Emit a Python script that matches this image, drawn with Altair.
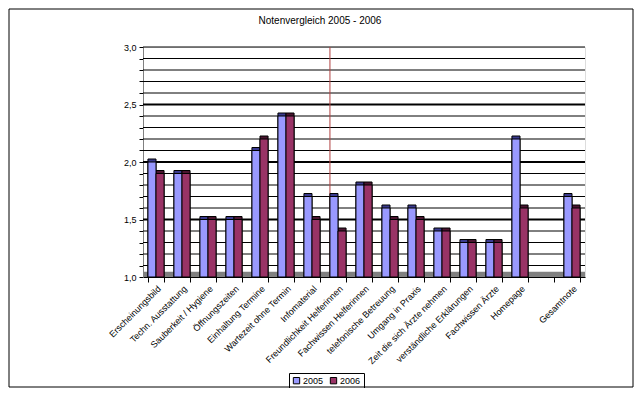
import altair as alt
import pandas as pd

title_text = "Notenvergleich 2005 - 2006"
categories = ["Erscheinungsbild", "Techn. Ausstattung", "Sauberkeit / Hygiene", "Öffnungszeiten",
              "Einhaltung Termine", "Wartezeit ohne Termin", "Infomaterial", "Freundlichkeit Helferinnen",
              "Fachwissen Helferinnen", "telefonische Betreuung", "Umgang in Praxis",
              "Zeit die sich Ärzte nehmen", "verständliche Erklärungen", "Fachwissen Ärzte",
              "Homepage", " ", "Gesamtnote"]
values_2005 = [2.0, 1.9, 1.5, 1.5, 2.1, 2.4, 1.7, 1.7, 1.8, 1.6, 1.6, 1.4, 1.3, 1.3, 2.2, None, 1.7]
values_2006 = [1.9, 1.9, 1.5, 1.5, 2.2, 2.4, 1.5, 1.4, 1.8, 1.5, 1.5, 1.4, 1.3, 1.3, 1.6, None, 1.6]
years = ["2005", "2006"]
grid_levels = [1.1, 1.2, 1.3, 1.4, 1.5, 1.6, 1.7, 1.8, 1.9, 2.0,
               2.1, 2.2, 2.3, 2.4, 2.5, 2.6, 2.7, 2.8, 2.9, 3.0]
heavy_levels = [1.5, 2.0, 2.5]
tick_levels = [1.0] + grid_levels

rows = []
for c, a, b in zip(categories, values_2005, values_2006):
    if a is not None:
        rows.append({"cat": c, "year": "2005", "value": a})
    if b is not None:
        rows.append({"cat": c, "year": "2006", "value": b})
df = pd.DataFrame(rows)
grid_df = pd.DataFrame({"level": grid_levels,
                        "heavy": [l in heavy_levels for l in grid_levels]})

FONT = "Liberation Sans"
W, H = 442, 230

xscale = alt.Scale(domain=categories, paddingInner=0.38, paddingOuter=0.19)
yscale = alt.Scale(domain=[1.0, 3.0], nice=False, zero=False)

xaxis = alt.Axis(title=None, labelAngle=-45, labelAlign="right", labelBaseline="top",
                 labelFont=FONT, labelFontSize=9, labelColor="black", labelPadding=2,
                 tickBand="extent", tickColor="black", tickSize=5, domainColor="black",
                 labelOverlap=False, labelLimit=200, grid=False)
yaxis = alt.Axis(title=None, values=tick_levels, grid=False, labelOverlap=False, labelFlush=False,
                 labelExpr="(abs(datum.value*2 - round(datum.value*2)) < 0.001) ? replace(format(datum.value, '.1f'), '.', ',') : ''",
                 labelFont=FONT, labelFontSize=9, labelColor="black", tickColor="black",
                 tickSize=4, domainColor="#808080", labelPadding=3)

base = alt.Chart(df)

frame = alt.Chart(pd.DataFrame({"a": [0]})).mark_rect(
    fill=None, stroke="black", strokeWidth=1
).encode(x=alt.value(-134), x2=alt.value(W + 48), y=alt.value(-38), y2=alt.value(H + 110))

title = alt.Chart(pd.DataFrame({"t": [title_text]})).mark_text(
    font=FONT, fontSize=10, color="black", align="center", baseline="alphabetic"
).encode(text="t:N", x=alt.value(W / 2 - 44), y=alt.value(-23))

floor = alt.Chart(pd.DataFrame({"y": [1.0], "y2": [1.045]})).mark_rect(color="#808080").encode(
    y=alt.Y("y:Q", scale=yscale, axis=yaxis), y2="y2:Q",
    x=alt.value(0), x2=alt.value(W))

grid = alt.Chart(grid_df).mark_rule(color="black").encode(
    y=alt.Y("level:Q", scale=yscale, axis=yaxis),
    strokeWidth=alt.condition(alt.datum.heavy, alt.value(2.2), alt.value(1)))

divider = alt.Chart(pd.DataFrame({"cat": ["Freundlichkeit Helferinnen"]})).mark_rule(
    color="#b04040", strokeWidth=1).encode(
    x=alt.X("cat:N", scale=xscale, bandPosition=0, axis=xaxis),
    y=alt.value(0), y2=alt.value(H))

shadow = base.mark_bar(xOffset=3, yOffset=-3, stroke="black", strokeWidth=1).encode(
    x=alt.X("cat:N", scale=xscale, axis=xaxis),
    xOffset=alt.XOffset("year:N", scale=alt.Scale(domain=years)),
    y=alt.Y("value:Q", scale=yscale, axis=yaxis),
    y2=alt.datum(1.0),
    color=alt.condition(alt.datum.year == "2005", alt.value("#3b3b8f"), alt.value("#4a1530")))

front = base.mark_bar(stroke="black", strokeWidth=1).encode(
    x=alt.X("cat:N", scale=xscale, axis=xaxis),
    xOffset=alt.XOffset("year:N", scale=alt.Scale(domain=years)),
    y=alt.Y("value:Q", scale=yscale, axis=yaxis),
    y2=alt.datum(1.0),
    fill=alt.Fill("year:N", scale=alt.Scale(domain=years, range=["#9999FF", "#993366"]),
                  legend=alt.Legend(title=None, orient="none", legendX=146, legendY=326,
                                    direction="horizontal", symbolType="square", symbolSize=40,
                                    symbolStrokeColor="black", symbolStrokeWidth=1,
                                    labelFont=FONT, labelFontSize=9, labelColor="black",
                                    strokeColor="black", padding=3, columnPadding=4,
                                    labelOffset=2)))

chart = alt.layer(frame, title, floor, grid, divider, shadow, front).properties(
    width=W, height=H,
    padding={"left": 135, "top": 39, "right": 49, "bottom": 111},
    autosize=alt.AutoSizeParams(type="none"),
).configure_view(stroke="#808080", strokeWidth=1).configure(background="white")

chart.save("out.html", embed_options={"renderer": "svg", "actions": False})
